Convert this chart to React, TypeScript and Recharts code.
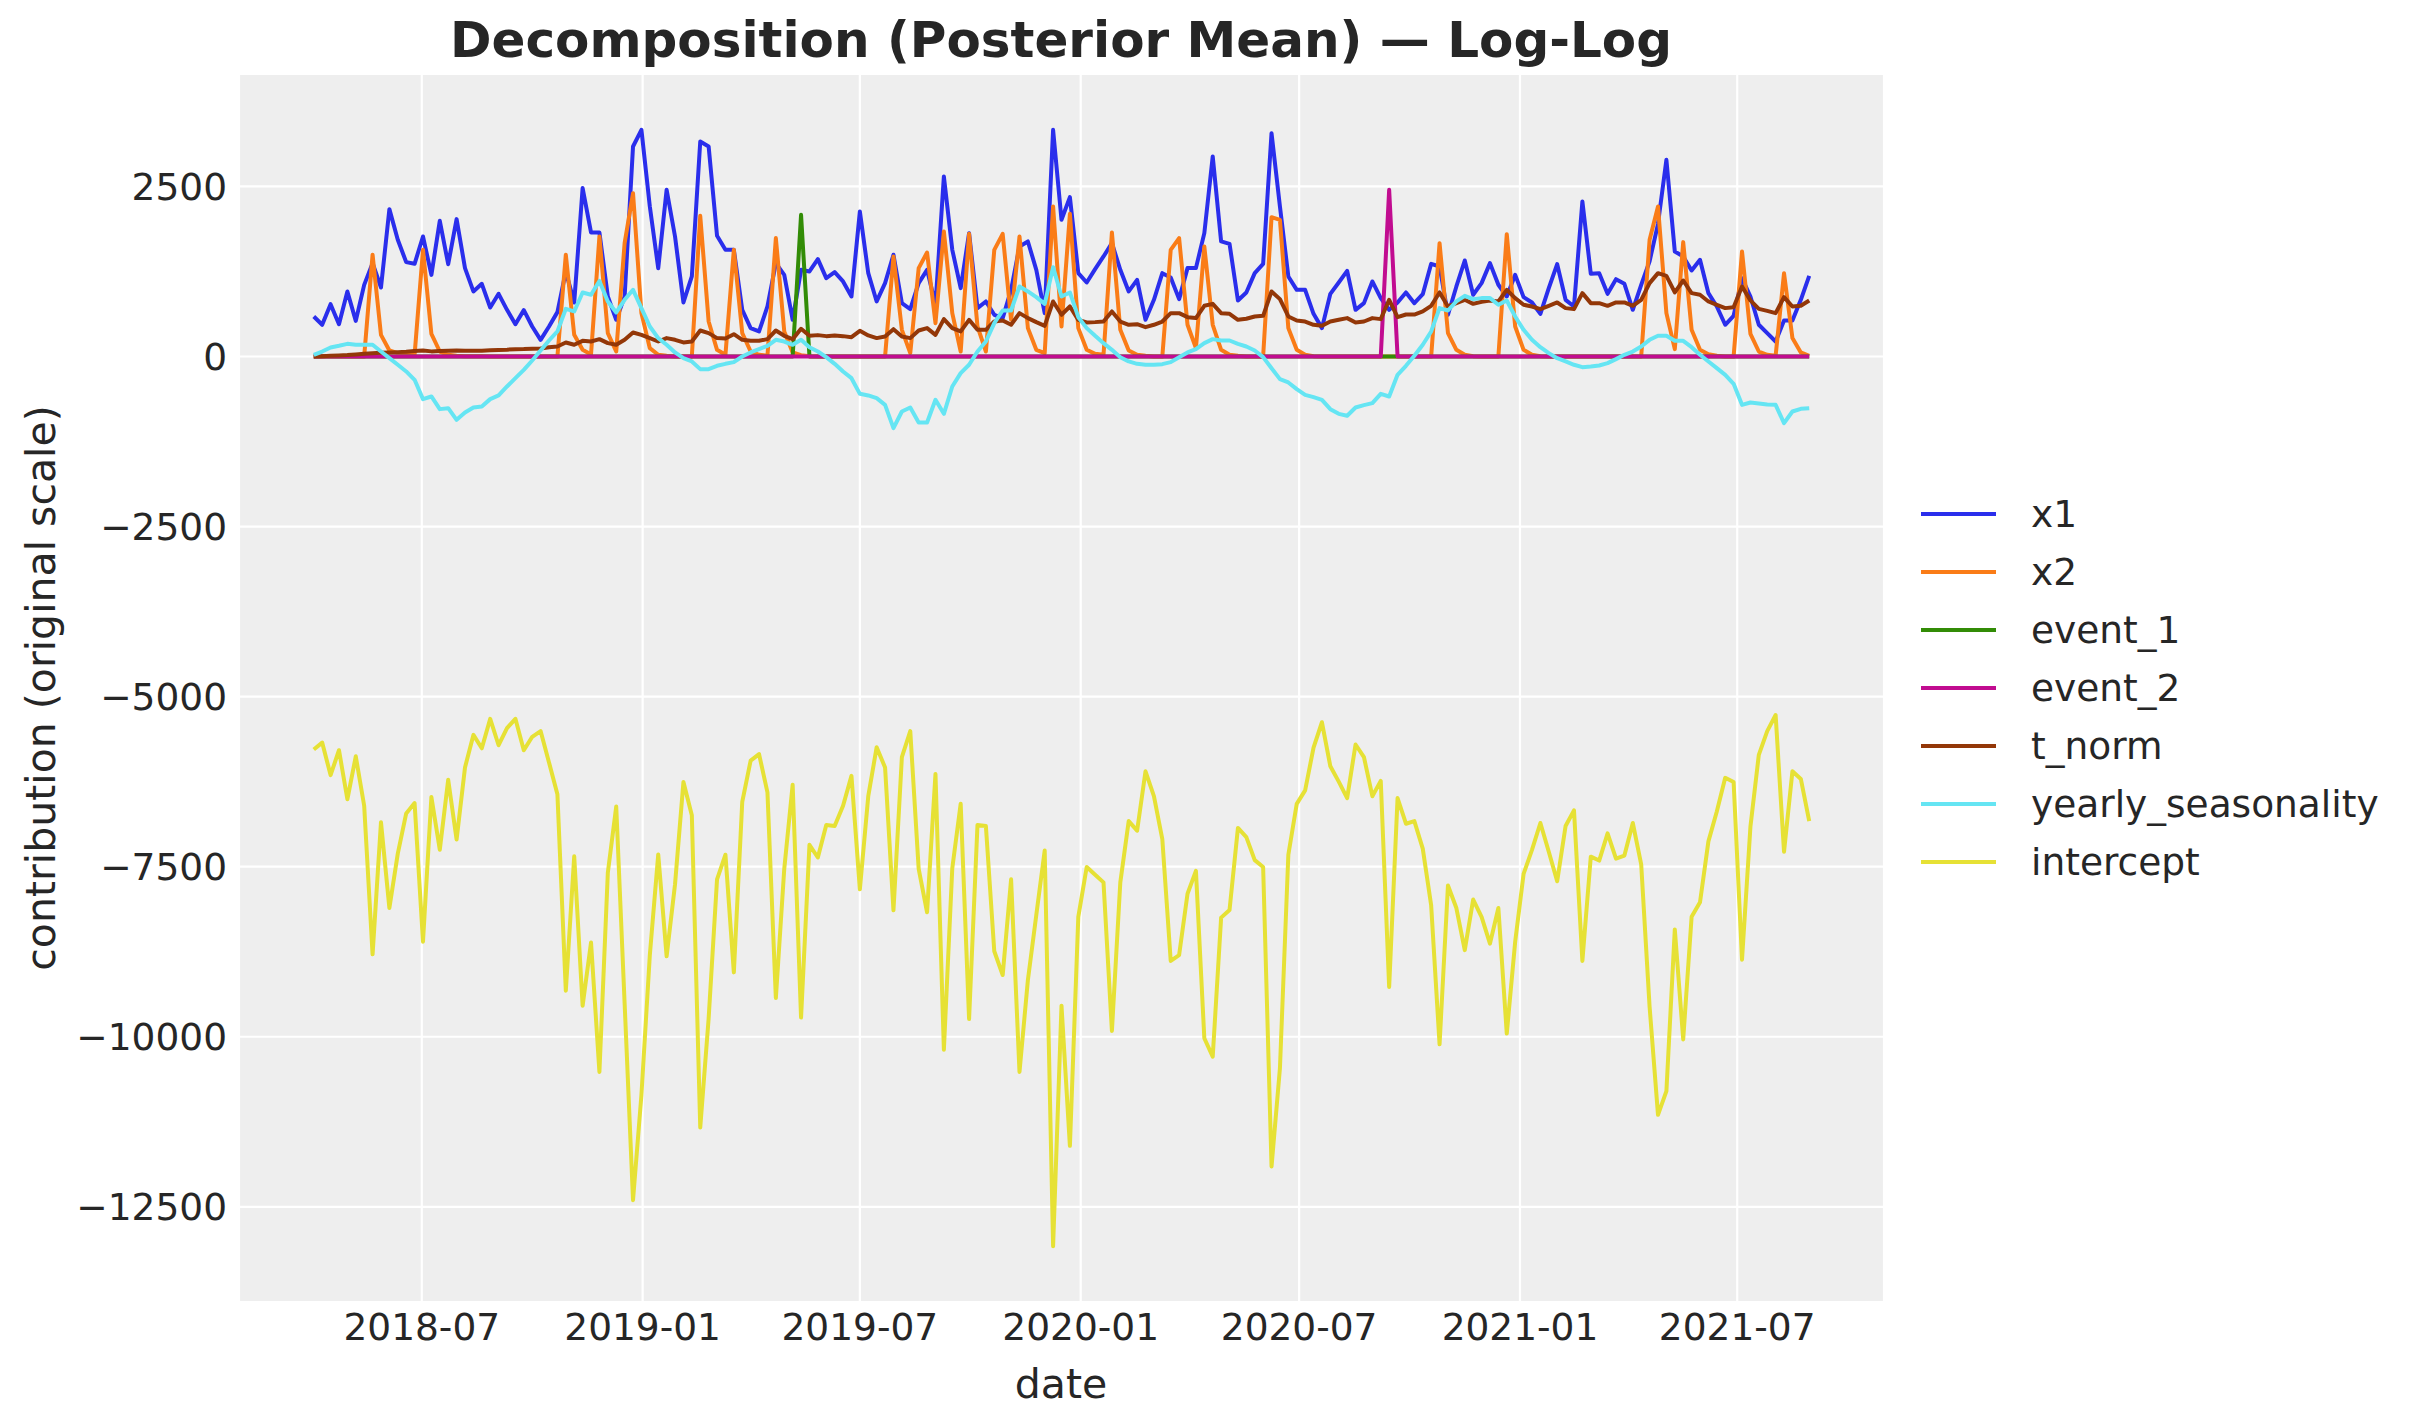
import { LineChart, Line, XAxis, YAxis, CartesianGrid, Legend } from 'recharts'

// weekly series, first week 2018-04-02
const START_WEEK = '2018-04-02'

const X1 = [
  588, 466, 769, 475, 955, 524, 1053, 1372, 1014, 2166, 1715, 1387, 1362, 1764, 1200, 1994, 1357, 2019, 1299, 956,
  1068, 720, 921, 686, 475, 681, 441, 245, 441, 652, 1250, 794, 2475, 1823, 1823, 882, 539, 882, 3087, 3332,
  2205, 1298, 2450, 1764, 794, 1176, 3160, 3087, 1774, 1568, 1568, 686, 417, 368, 735, 1372, 1200, 539, 1274, 1250,
  1431, 1152, 1240, 1103, 882, 2132, 1225, 809, 1078, 1495, 784, 696, 1078, 1274, 760, 2646, 1568, 1005, 1813, 711,
  809, 613, 564, 980, 1617, 1691, 1274, 637, 3332, 2009, 2342, 1225, 1088, 1284, 1470, 1666, 1274, 956, 1127, 539,
  833, 1225, 1160, 843, 1299, 1299, 1813, 2940, 1691, 1656, 823, 941, 1225, 1362, 3283, 2205, 1176, 980, 980, 627,
  417, 921, 1088, 1259, 686, 784, 1103, 858, 686, 794, 941, 784, 916, 1362, 1323, 613, 1029, 1411, 907, 1078,
  1372, 1054, 882, 1200, 872, 794, 627, 1005, 1357, 833, 735, 2279, 1215, 1225, 921, 1137, 1068, 686, 1054, 1400,
  1950, 2891, 1544, 1470, 1264, 1421, 931, 735, 466, 598, 1150, 882, 466, 343, 220, 529, 529, 833, 1186,
]

const X2 = [
  0, 0, 0, 0, 0, 0, 0, 1495, 318, 88, 49, 39, 25, 1568, 333, 73, 25, 10, 5, 3,
  2, 1, 1, 0, 0, 0, 0, 0, 0, 0, 1495, 318, 98, 30, 1764, 343, 73, 1666, 2401, 637,
  122, 25, 10, 0, 0, 0, 2068, 514, 98, 25, 1568, 343, 73, 25, 10, 1740, 368, 59, 20, 5,
  0, 0, 0, 0, 0, 0, 0, 0, 0, 1470, 392, 49, 1299, 1529, 490, 1838, 637, 73, 1803, 441,
  73, 1568, 1803, 539, 1764, 417, 98, 49, 2205, 441, 2097, 417, 98, 39, 25, 1823, 392, 88, 25, 10,
  0, 0, 1568, 1740, 466, 122, 1617, 466, 98, 25, 10, 0, 0, 0, 2048, 2009, 417, 98, 25, 5,
  0, 0, 0, 0, 0, 0, 0, 0, 0, 0, 0, 0, 0, 0, 1666, 343, 98, 25, 5, 0,
  0, 0, 1798, 441, 98, 25, 5, 0, 0, 0, 0, 0, 0, 0, 0, 0, 0, 0, 0, 1715,
  2205, 637, 108, 1681, 392, 98, 34, 10, 0, 0, 1544, 333, 73, 25, 10, 1225, 270, 59, 10,
]

const EVENT_1 = X1.map((_, i) => (i === 58 ? 2083 : 0))
const EVENT_2 = X1.map((_, i) => (i === 128 ? 2450 : 0))

const T_NORM = [
  0, 5, 10, 15, 20, 30, 40, 49, 55, 60, 64, 70, 80, 88, 75, 80, 85, 88, 85, 85,
  83, 90, 95, 100, 108, 110, 115, 118, 137, 147, 206, 172, 230, 220, 255, 196, 172, 245, 353, 318,
  270, 220, 270, 245, 206, 220, 382, 343, 270, 265, 328, 245, 230, 230, 255, 382, 304, 255, 407, 304,
  314, 299, 309, 299, 284, 377, 309, 270, 294, 402, 294, 270, 382, 417, 318, 549, 417, 368, 539, 392,
  392, 514, 529, 466, 637, 564, 505, 451, 809, 613, 735, 539, 500, 505, 514, 662, 514, 466, 475, 431,
  466, 514, 637, 637, 578, 564, 745, 774, 637, 627, 539, 554, 588, 598, 956, 843, 588, 529, 514, 466,
  451, 514, 539, 564, 500, 514, 564, 549, 833, 578, 617, 617, 662, 745, 941, 735, 784, 833, 774, 804,
  823, 809, 980, 858, 760, 735, 696, 745, 794, 711, 696, 931, 784, 784, 745, 794, 794, 745, 833, 1078,
  1225, 1186, 941, 1117, 931, 907, 809, 760, 711, 725, 1029, 825, 700, 671, 637, 872, 735, 745, 823,
]

const YEARLY = [
  25, 73, 132, 157, 186, 172, 172, 172, 73, -25, -122, -220, -343, -627, -588, -774, -760, -931, -823, -750,
  -735, -627, -573, -441, -319, -196, -59, 88, 235, 368, 701, 662, 941, 907, 1110, 809, 647, 833, 980, 711,
  441, 270, 172, 59, -25, -73, -186, -186, -137, -108, -83, 0, 59, 108, 157, 245, 220, 172, 245, 137,
  73, -10, -108, -220, -319, -549, -573, -613, -711, -1054, -809, -750, -970, -970, -637, -843, -441, -245, -122, 73,
  220, 490, 676, 676, 1029, 956, 872, 774, 1313, 882, 941, 578, 417, 304, 196, 98, -10, -73, -108, -122,
  -122, -113, -83, -10, 59, 108, 196, 255, 235, 235, 186, 147, 88, -10, -172, -333, -382, -480, -564, -598,
  -637, -774, -843, -872, -750, -715, -686, -549, -588, -270, -137, 10, 172, 368, 711, 676, 809, 892, 843, 858,
  858, 760, 823, 588, 392, 245, 137, 49, -25, -73, -122, -157, -147, -132, -98, -39, 25, 73, 147, 245,
  304, 304, 230, 230, 137, 25, -73, -172, -270, -402, -711, -676, -690, -706, -711, -980, -809, -769, -760,
]

const INTERCEPT = [
  -5777, -5676, -6154, -5788, -6509, -5878, -6605, -8789, -6847, -8108, -7308, -6717, -6565, -8603, -6475, -7252, -6222, -7100, -6042, -5563,
  -5760, -5327, -5715, -5462, -5327, -5788, -5591, -5507, -5968, -6436, -9324, -7348, -9543, -8614, -10517, -7590, -6616, -9510, -12403, -10855,
  -8800, -7320, -8817, -7759, -6255, -6745, -11334, -9729, -7686, -7325, -9054, -6548, -5940, -5845, -6408, -9431, -7534, -6295, -9718, -7179,
  -7365, -6886, -6903, -6605, -6165, -7832, -6464, -5743, -6042, -8142, -5890, -5507, -7534, -8170, -6137, -10191, -7522, -6576, -9740, -6886,
  -6903, -8744, -9093, -7686, -10517, -9166, -8209, -7263, -13079, -9543, -11604, -8237, -7505, -7618, -7731, -9915, -7731, -6830, -6971, -6098,
  -6464, -7094, -8885, -8800, -7899, -7562, -10022, -10292, -8249, -8136, -6931, -7066, -7404, -7505, -11908, -10461, -7325, -6576, -6379, -5749,
  -5377, -6025, -6250, -6492, -5704, -5890, -6464, -6239, -9268, -6492, -6869, -6830, -7235, -8068, -10112, -7776, -8108, -8727, -7984, -8237,
  -8631, -8108, -9954, -8603, -7607, -7252, -6858, -7280, -7714, -6903, -6672, -8885, -7353, -7410, -7010, -7381, -7336, -6858, -7466, -9560,
  -11148, -10799, -8423, -10039, -8237, -8023, -7128, -6689, -6194, -6255, -8868, -6914, -5856, -5507, -5270, -7280, -6098, -6210, -6830,
]

const X_TICKS = ['2018-07', '2019-01', '2019-07', '2020-01', '2020-07', '2021-01', '2021-07']
const Y_TICKS = [2500, 0, -2500, -5000, -7500, -10000, -12500]

const SERIES = [
  { key: 'x1', color: '#2a2eec', values: X1 },
  { key: 'x2', color: '#fa7c17', values: X2 },
  { key: 'event_1', color: '#328c06', values: EVENT_1 },
  { key: 'event_2', color: '#c10c90', values: EVENT_2 },
  { key: 't_norm', color: '#933708', values: T_NORM },
  { key: 'yearly_seasonality', color: '#65e5f3', values: YEARLY },
  { key: 'intercept', color: '#e6e135', values: INTERCEPT },
]
const ORDER = SERIES.map(s => s.key)

const DAY = 86400000
const t0 = Date.parse(START_WEEK + 'T00:00:00Z')
const data = X1.map((_, i) => {
  const row: any = { t: t0 + i * 7 * DAY }
  SERIES.forEach(s => { row[s.key] = s.values[i] })
  return row
})

const tMin = data[0].t
const tMax = data[data.length - 1].t
const xPad = (tMax - tMin) * 0.05
const allVals = SERIES.flatMap(s => s.values)
const vMin = Math.min(...allVals)
const vMax = Math.max(...allVals)
const yPad = (vMax - vMin) * 0.05

const xTickValues = X_TICKS.map(m => Date.parse(m + '-01T00:00:00Z'))
const fmtMonth = (v: number) => new Date(v).toISOString().slice(0, 7)
const fmtNum = (v: number) => (v < 0 ? '\u2212' + Math.abs(v) : String(v))

const FONT = 'DejaVu Sans'
const INK = '#262626'

const W = 2423
const H = 1423
const ROW = 58

function LegendBox({ payload }: any) {
  // keep the plotting order, not alphabetical
  const items = [...(payload || [])].sort(
    (a: any, b: any) => ORDER.indexOf(a.value) - ORDER.indexOf(b.value)
  )
  return (
    <svg width={480} height={ROW * 7} style={{ overflow: 'visible' }}>
      {items.map((p: any, k: number) => {
        const cy = ROW / 2 + k * ROW
        return (
          <g key={p.value}>
            <line x1={0} x2={75} y1={cy} y2={cy} stroke={p.color} strokeWidth={4} />
            <text x={110} y={cy + 13} fontFamily={FONT} fontSize={37.5} fill={INK}>
              {p.value}
            </text>
          </g>
        )
      })}
    </svg>
  )
}

export default function App() {
  return (
    <div style={{ position: 'absolute', left: 0, top: 0, width: W, height: H, background: '#fff' }}>
      <LineChart
        width={W}
        height={H}
        data={data}
        margin={{ top: 74, right: 539, bottom: 61, left: 139 }}
      >
        <CartesianGrid fill="#eeeeee" stroke="#ffffff" strokeWidth={2.2} />
        <XAxis
          dataKey="t"
          type="number"
          scale="linear"
          domain={[tMin - xPad, tMax + xPad]}
          ticks={xTickValues}
          tickFormatter={fmtMonth}
          height={60}
          axisLine={false}
          tickLine={false}
          tickSize={0}
          tickMargin={11}
          tick={{ fontSize: 37.5, fill: INK, fontFamily: FONT }}
        />
        <YAxis
          type="number"
          domain={[vMin - yPad, vMax + yPad]}
          ticks={Y_TICKS}
          tickFormatter={fmtNum}
          width={100}
          axisLine={false}
          tickLine={false}
          tickSize={0}
          tickMargin={12}
          tick={{ fontSize: 37.5, fill: INK, fontFamily: FONT }}
        />
        <Legend
          content={LegendBox}
          wrapperStyle={{ position: 'absolute', left: 1921, top: 514 - ROW / 2, width: 0, height: 0, overflow: 'visible' }}
        />
        {SERIES.map(s => (
          <Line
            key={s.key}
            type="linear"
            dataKey={s.key}
            name={s.key}
            stroke={s.color}
            strokeWidth={4}
            strokeLinejoin="round"
            dot={false}
            activeDot={false}
            isAnimationActive={false}
          />
        ))}
      </LineChart>
      <svg width={W} height={H} style={{ position: 'absolute', left: 0, top: 0, pointerEvents: 'none' }}>
        <text x={1061} y={57} textAnchor="middle" fontFamily={FONT} fontWeight="bold" fontSize={50} fill={INK}>
          Decomposition (Posterior Mean) — Log-Log
        </text>
        <text x={1061} y={1398} textAnchor="middle" fontFamily={FONT} fontSize={41} fill={INK}>
          date
        </text>
        <text
          transform="translate(55,688) rotate(-90)"
          textAnchor="middle"
          fontFamily={FONT}
          fontSize={41}
          fill={INK}
        >
          contribution (original scale)
        </text>
      </svg>
    </div>
  )
}
